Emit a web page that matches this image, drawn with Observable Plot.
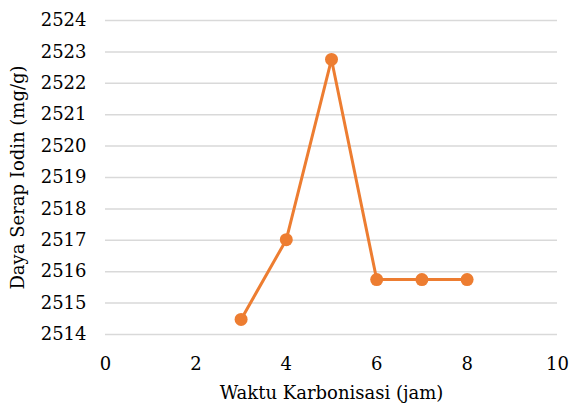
<!DOCTYPE html>
<html>
<head>
<meta charset="utf-8">
<script src="https://cdn.jsdelivr.net/npm/d3@7"></script>
<script src="https://cdn.jsdelivr.net/npm/@observablehq/plot@0.6"></script>
<style>
  html, body { margin: 0; padding: 0; background: #fff; }
  svg text { font-family: "DejaVu Serif", serif !important; }
</style>
</head>
<body>
<div id="chart"></div>
<script>
const hours = [3, 4, 5, 6, 7, 8];
const iodine = [2514.48, 2517.02, 2522.76, 2515.75, 2515.75, 2515.75];
const xTicks = [0, 2, 4, 6, 8, 10];
const yTicks = [2514, 2515, 2516, 2517, 2518, 2519, 2520, 2521, 2522, 2523, 2524];
const xTitle = "Waktu Karbonisasi (jam)";
const yTitle = "Daya Serap Iodin (mg/g)";

const data = hours.map((h, i) => ({h, v: iodine[i]}));
const FF = "'DejaVu Serif', serif";
const FS = 18;

const chart = Plot.plot({
  width: 574,
  height: 405,
  marginLeft: 105,
  marginRight: 17,
  marginTop: 20,
  marginBottom: 71,
  style: {fontFamily: FF, fontSize: "18px", color: "#000", background: "#fff"},
  x: {domain: [0, 10]},
  y: {domain: [2514, 2524]},
  marks: [
    Plot.gridY(yTicks, {stroke: "#d9d9d9", strokeOpacity: 1, strokeWidth: 1.5}),
    Plot.axisY(yTicks, {tickSize: 0, tickPadding: 19, label: null, fill: "#000", fontFamily: FF, fontSize: FS, tickFormat: d => String(d)}),
    Plot.axisX(xTicks, {tickSize: 0, tickPadding: 23, label: null, fill: "#000", fontFamily: FF, fontSize: FS, tickFormat: d => String(d)}),
    Plot.text([xTitle], {frameAnchor: "bottom", dy: 64, text: d => d, fill: "#000", fontFamily: FF, fontSize: FS, textAnchor: "middle"}),
    Plot.text([yTitle], {frameAnchor: "left", dx: -87, rotate: -90, text: d => d, fill: "#000", fontFamily: FF, fontSize: FS, textAnchor: "middle"}),
    Plot.line(data, {x: "h", y: "v", stroke: "#ED7D31", strokeWidth: 3}),
    Plot.dot(data, {x: "h", y: "v", r: 6.5, fill: "#ED7D31", stroke: "none"})
  ]
});
document.getElementById("chart").appendChild(chart);
</script>
</body>
</html>
